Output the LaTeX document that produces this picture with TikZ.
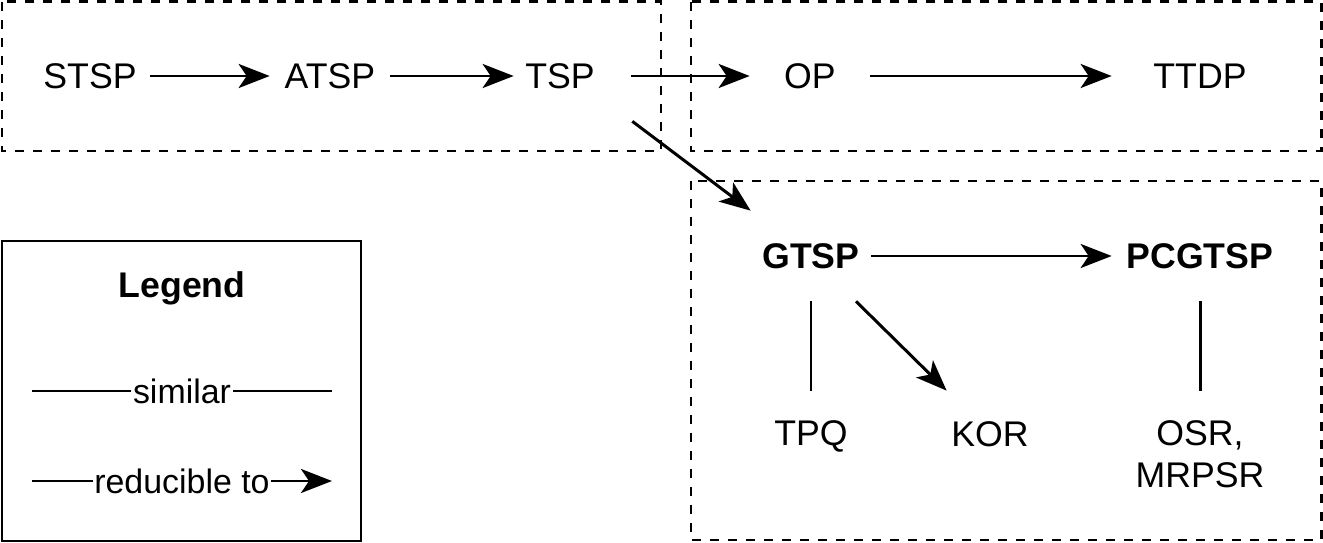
\documentclass[tikz,border=0pt]{standalone}
\usepackage{fontspec}
\setmainfont{Liberation Sans}
\usetikzlibrary{arrows.meta}
\tikzset{
  frame/.style={draw=black, line width=1.7pt, dash pattern=on 0.19cm off 0.17cm},
  legbox/.style={draw=black, line width=1.7pt},
  prob/.style={font=\fontsize{20.3}{24}\selectfont, inner sep=0pt, minimum width=2.4cm, minimum height=1.8cm, align=center},
  wide/.style={prob, minimum width=3.52cm},
  bold/.style={font=\fontsize{20.3}{24}\selectfont\bfseries},
  reduce/.style={draw=black, line width=1.7pt, -{Stealth[length=0.62cm, width=0.48cm, inset=0.16cm]}},
  sim/.style={draw=black, line width=1.7pt},
  lab/.style={font=\fontsize{19.3}{23}\selectfont, fill=white, inner sep=1pt},
}
\begin{document}
\begin{tikzpicture}[x=0.02cm, y=-0.02cm]
  \useasboundingbox (0,0) rectangle (1323,543);
  \draw[frame] (2,2) rectangle (661,151);
  \draw[frame] (691,2) rectangle (1321,151);
  \draw[frame] (691,181) rectangle (1321,540);
  \draw[legbox] (2,241) rectangle (361,541);

  \foreach \N/\T/\X in {stsp/STSP/90, atsp/ATSP/330, tsp/TSP/560, op/OP/810}
    \node[prob] (\N) at (\X,76) {\T};
  \node[wide] (ttdp) at (1200,76) {TTDP};
  \node[prob, bold] (gtsp) at (811,256) {GTSP};
  \node[wide, bold] (pcgtsp) at (1200,256) {PCGTSP};
  \node[prob] (tpq) at (811,436) {TPQ};
  \node[prob] (kor) at (990,434) {KOR};
  \node[prob, minimum height=2.52cm] (osr) at (1200,454) {OSR,\\MRPSR};

  \draw[reduce] (stsp) -- (atsp);
  \draw[reduce] (atsp) -- ([xshift=0.28cm]tsp.west);
  \draw[reduce] ([xshift=0.22cm]tsp.east) -- (op);
  \draw[reduce] (op) -- (ttdp);
  \draw[reduce] ([xshift=0.24cm]tsp.south east) -- (gtsp.north west);
  \draw[reduce] (gtsp) -- (pcgtsp);
  \draw[sim] (gtsp.south) -- (tpq.north);
  \draw[reduce] ([xshift=0.9cm]gtsp.south) -- ([xshift=0.34cm,yshift=-0.04cm]kor.north west);
  \draw[sim] (pcgtsp.south) -- (osr.north);

  % legend
  \node[bold] (legend) at (182,288) {Legend};
  \coordinate (sa) at (32,391);
  \coordinate (sb) at (332,391);
  \draw[sim] (sa) -- node[lab] (simlab) {similar} (sb);
  \coordinate (ra) at (32,481);
  \coordinate (rb) at (332,481);
  \draw[reduce] (ra) -- node[lab] (redlab) {reducible to} (rb);
\end{tikzpicture}
\end{document}
